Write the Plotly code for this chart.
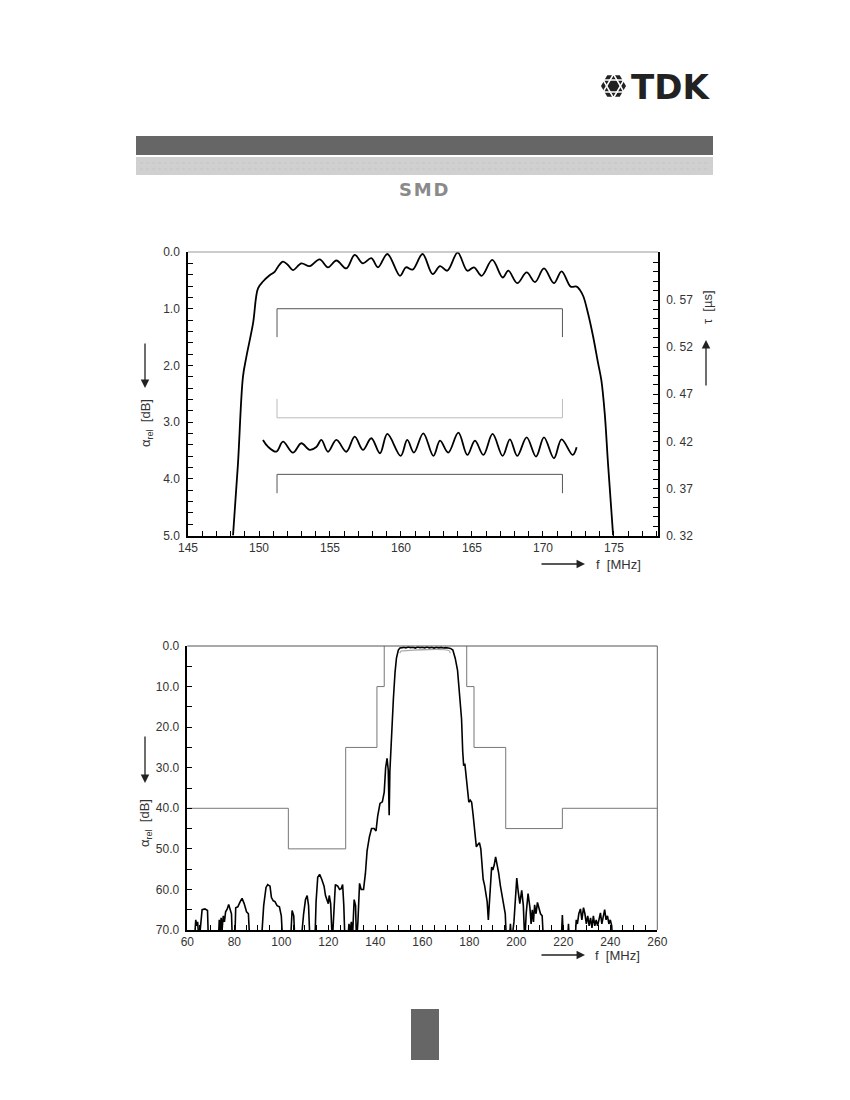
import math
import plotly.graph_objects as go

# the page body adds an 8 px margin, so the figure is drawn 8 px smaller and offset
OFF = 8
W, H = 850 - OFF, 1100 - OFF

# ---- top chart: passband detail ----
amp_f = [148.17, 148.52, 148.87, 149.11, 149.58, 149.93, 150.28, 150.75, 151.1, 151.34,
         151.69, 152.04, 152.39, 152.98, 153.57, 154.27, 154.86, 155.45, 156.15, 156.74,
         157.32, 157.91, 158.38, 159.04, 159.93, 160.35, 160.82, 161.52, 162.23, 162.75,
         163.26, 163.99, 164.67, 165.14, 165.68, 166.43, 167.16, 167.56, 168.19, 168.85,
         169.44, 170.07, 170.77, 171.31, 171.95, 172.37, 172.6, 172.84, 173.17, 173.53,
         173.88, 174.11, 174.35, 174.58, 174.94]
amp_db = [5.0, 3.73, 2.2, 1.85, 1.26, 0.64, 0.52, 0.41, 0.35, 0.26,
          0.17, 0.23, 0.32, 0.2, 0.25, 0.13, 0.27, 0.15, 0.29, 0.05,
          0.2, 0.11, 0.27, 0.035, 0.42, 0.27, 0.31, 0.035, 0.39, 0.25,
          0.33, 0.012, 0.33, 0.27, 0.42, 0.14, 0.45, 0.33, 0.55, 0.36,
          0.53, 0.29, 0.55, 0.34, 0.61, 0.61, 0.67, 0.78, 1.08, 1.49,
          1.96, 2.26, 2.85, 3.73, 5.0]

gd_f = [150.28, 150.63, 151.22, 151.69, 152.39, 152.98, 153.57, 154.04, 154.39, 154.86,
        155.45, 156.15, 156.74, 157.32, 157.91, 158.52, 159.04, 159.98, 160.44, 160.91,
        161.57, 162.28, 162.75, 163.33, 164.04, 164.67, 165.21, 165.8, 166.45, 167.16,
        167.67, 168.19, 168.85, 169.51, 170.07, 170.77, 171.31, 172.09, 172.37]
gd_us = [0.4215, 0.4144, 0.4091, 0.4197, 0.408, 0.418, 0.411, 0.414, 0.4215, 0.409,
         0.4215, 0.409, 0.425, 0.411, 0.4233, 0.4074, 0.4279, 0.4046, 0.4215, 0.4081,
         0.4286, 0.4046, 0.4208, 0.4081, 0.4293, 0.4056, 0.4208, 0.4056, 0.4279, 0.4046,
         0.4222, 0.4046, 0.4243, 0.4039, 0.4243, 0.4021, 0.4222, 0.4056, 0.4138]

tol_f = [151.27, 151.27, 171.37, 171.37]
amp_tol_db = [1.5, 1.0, 1.0, 1.5]
gd_upper_us = [0.465, 0.445, 0.445, 0.465]
gd_lower_us = [0.365, 0.385, 0.385, 0.365]

gd_ticks = [0.32, 0.37, 0.42, 0.47, 0.52, 0.57]
gd_ticktext = ["0. 32", "0. 37", "0. 42", "0. 47", "0. 52", "0. 57"]

# ---- bottom chart: wide band ----
wb = [
    (63.0, 73), (63.6, 67.5), (64.0, 69), (64.4, 68), (65.0, 73), (66.3, 65), (67.5, 64.8),
    (68.6, 65.2), (69.0, 73),
    (73.2, 73), (73.6, 67.5), (74.0, 70.5), (74.4, 67), (74.8, 70), (75.3, 66.5), (75.8, 68),
    (76.3, 65.5), (77.0, 64.8), (77.6, 63.7), (78.3, 65), (78.8, 66), (79.2, 73),
    (80.2, 73), (80.6, 64.5), (81.5, 64.3), (82.5, 63), (83.3, 62.2), (84.2, 63.5), (85.2, 65.5),
    (86.0, 66), (86.6, 73),
    (91.5, 73), (92.5, 64), (93.5, 59.5), (94.2, 58.8), (95.2, 59.2), (95.8, 62), (96.6, 62.8),
    (97.3, 63), (98.2, 64), (99.2, 64.3), (100.0, 66.5), (100.6, 73),
    (103.9, 73), (104.6, 65.2), (105.3, 66.5), (105.8, 73),
    (108.4, 73), (108.8, 69.5), (109.5, 66), (110.3, 62.5), (111.0, 61.5), (111.6, 64), (112.2, 73),
    (114.3, 73), (114.8, 63), (115.5, 57), (116.3, 56.3), (117.2, 57.5), (118.2, 59.2), (118.8, 61.5),
    (119.4, 62.5), (120.0, 63.5), (120.4, 61.5), (121.0, 63.5), (121.7, 73),
    (122.3, 66), (123.0, 58.8), (124.0, 59.2), (124.8, 60), (125.5, 59.8), (126.1, 58.8),
    (126.6, 64), (127.1, 73),
    (128.2, 73), (128.8, 68.5), (129.3, 70.5), (129.8, 68), (130.4, 70.5), (131.0, 62.5),
    (131.6, 64), (132.0, 73), (132.6, 68),
    (133.3, 58.5), (134.0, 60), (135.0, 60), (135.8, 56), (136.5, 50.5), (137.5, 47), (138.4, 45),
    (139.5, 45), (140.3, 45.6), (141.0, 42), (142.0, 38.8), (143.0, 38.4), (143.8, 36), (144.4, 30),
    (145.0, 27.7), (145.5, 30.5), (145.9, 41.7), (146.2, 31), (146.6, 25), (147.0, 20), (147.7, 13),
    (148.4, 6.5), (149.0, 3), (149.8, 1.0), (150.5, 0.5), (151.5, 0.4),
    (152, 0.3), (153, 0.45), (154, 0.25), (155, 0.4), (156, 0.3), (157, 0.5), (158, 0.25),
    (159, 0.4), (160, 0.3), (161, 0.45), (162, 0.25), (163, 0.45), (164, 0.3), (165, 0.5),
    (166, 0.3), (167, 0.45), (168, 0.35), (169, 0.5), (170, 0.4), (171, 0.5), (172, 0.6),
    (173.0, 1.0), (174.0, 3), (175.0, 6), (176.0, 12), (176.7, 18), (177.2, 26), (177.6, 29.5),
    (178.1, 29), (178.6, 31.5), (179.2, 36), (179.8, 38.5), (180.4, 38), (181.0, 38.5),
    (181.6, 41.5), (182.2, 45), (183.0, 49.5), (183.6, 49), (184.3, 48.5), (184.9, 50),
    (185.4, 53), (185.9, 57.5), (186.5, 59), (187.0, 61.5), (187.6, 63), (188.1, 67.5),
    (188.5, 63), (189.0, 57), (189.5, 54.5), (190.0, 55.2), (190.6, 54), (191.2, 52),
    (191.8, 53.5), (192.5, 56), (193.2, 59), (194.0, 62), (194.7, 64), (195.3, 66), (195.8, 73),
    (197.0, 73), (197.5, 68.5), (198.0, 73), (199.0, 68), (199.6, 62), (200.2, 57.2),
    (200.8, 60.5), (201.5, 63.5), (202.3, 60.2), (203.0, 64), (203.6, 73),
    (204.2, 66), (205.0, 61), (205.8, 64.5), (206.3, 68.5), (206.8, 65), (207.3, 68),
    (207.8, 63.8), (208.4, 66), (209.0, 63.2), (209.6, 64.5), (210.3, 66), (211.0, 66.5), (211.6, 73),
    (219.1, 73), (219.6, 66.3), (220.1, 73),
    (221.8, 73), (222.2, 68.5), (222.6, 73),
    (225.0, 73), (225.5, 67.5), (226.0, 68.5), (226.6, 66), (227.3, 64.8), (227.9, 67.5),
    (228.6, 64.5), (229.2, 66), (229.8, 68.5), (230.4, 66.5), (231.0, 69), (231.6, 67),
    (232.2, 69.5), (232.8, 66.5), (233.4, 69), (234.0, 67.5), (234.6, 69), (235.2, 67.5),
    (235.8, 65.8), (236.4, 68.5), (237.0, 66.5), (237.6, 65), (238.2, 67.5), (238.8, 66.5),
    (239.4, 68.5), (240.0, 67.5), (240.6, 69), (241.0, 73),
]
wb_f = [p[0] for p in wb]
wb_db = [p[1] for p in wb]

ref_f = [150.5, 150.8, 152.0, 171.5, 171.8]
ref_db = [1.8, 1.3, 1.2, 1.2, 1.8]

mask_left_f = [60, 103, 103, 127.4, 127.4, 140.7, 140.7, 143.8, 143.8]
mask_left_db = [40, 40, 50, 50, 25, 25, 10, 10, 0]
mask_right_f = [178.9, 178.9, 182, 182, 195.5, 195.5, 219.6, 219.6, 260]
mask_right_db = [0, 10, 10, 25, 25, 45, 45, 40, 40]


def px(x):
    return (x - OFF) / W


def py(y):
    return 1 - (y - OFF) / H


def poly_path(pts):
    return "M " + " L ".join(f"{px(a):.5f},{py(b):.5f}" for a, b in pts) + " Z"


fig = go.Figure()

# top chart traces
fig.add_trace(go.Scatter(x=tol_f, y=amp_tol_db, mode="lines",
                         line=dict(color="#555555", width=1), xaxis="x", yaxis="y"))
fig.add_trace(go.Scatter(x=tol_f, y=gd_upper_us, mode="lines",
                         line=dict(color="#bbbbbb", width=1), xaxis="x", yaxis="y2"))
fig.add_trace(go.Scatter(x=tol_f, y=gd_lower_us, mode="lines",
                         line=dict(color="#555555", width=1), xaxis="x", yaxis="y2"))
fig.add_trace(go.Scatter(x=amp_f, y=amp_db, mode="lines", line_shape="spline",
                         line=dict(color="black", width=1.8), xaxis="x", yaxis="y"))
fig.add_trace(go.Scatter(x=gd_f, y=gd_us, mode="lines", line_shape="spline",
                         line=dict(color="black", width=1.8), xaxis="x", yaxis="y2"))

# bottom chart traces
fig.add_trace(go.Scatter(x=mask_left_f, y=mask_left_db, mode="lines",
                         line=dict(color="#777777", width=1), xaxis="x2", yaxis="y3"))
fig.add_trace(go.Scatter(x=mask_right_f, y=mask_right_db, mode="lines",
                         line=dict(color="#777777", width=1), xaxis="x2", yaxis="y3"))
fig.add_trace(go.Scatter(x=ref_f, y=ref_db, mode="lines", line_shape="spline",
                         line=dict(color="#aaaaaa", width=1.2), xaxis="x2", yaxis="y3"))
fig.add_trace(go.Scatter(x=wb_f, y=wb_db, mode="lines",
                         line=dict(color="black", width=1.6), xaxis="x2", yaxis="y3"))

tickfont = dict(family="Liberation Sans, Arial", size=12, color="#333333")
common = dict(showgrid=False, zeroline=False, showline=True, linecolor="black",
              linewidth=1.5, ticks="inside", ticklen=5, tickcolor="black",
              tickfont=tickfont, automargin=False)

fig.update_layout(
    width=W, height=H, margin=dict(l=0, r=0, t=0, b=0, autoexpand=False),
    paper_bgcolor="white", plot_bgcolor="white", showlegend=False,
    xaxis=dict(domain=[px(188), px(658)], anchor="y", range=[145, 178.1],
               tick0=145, dtick=5,
               minor=dict(tick0=145, dtick=1, ticks="inside", ticklen=5, tickcolor="black"),
               **common),
    yaxis=dict(domain=[py(535.6), py(252)], anchor="x", range=[5, 0],
               tick0=0, dtick=1, tickformat=".1f", ticklabelstandoff=4,
               minor=dict(tick0=0, dtick=0.2, ticks="inside", ticklen=5, tickcolor="black"),
               **common),
    yaxis2=dict(overlaying="y", anchor="x", side="right", range=[0.32, 0.621],
                tickmode="array", tickvals=gd_ticks, ticktext=gd_ticktext, ticklabelstandoff=4,
                minor=dict(tickmode="linear", tick0=0.32, dtick=0.01, ticks="inside",
                           ticklen=5, tickcolor="black"),
                **common),
    xaxis2=dict(domain=[px(187.3), px(657.3)], anchor="y3", range=[60, 260],
                tick0=60, dtick=20,
                minor=dict(tick0=60, dtick=5, ticks="inside", ticklen=5, tickcolor="black"),
                **common),
    yaxis3=dict(domain=[py(930), py(646)], anchor="x2", range=[70, 0],
                tick0=0, dtick=10, tickformat=".1f", ticklabelstandoff=4,
                minor=dict(tick0=0, dtick=5, ticks="inside", ticklen=5, tickcolor="black"),
                **common),
)

# TDK emblem: dark hexagon with white star outline
cx, cy, r = 613.5, 86, 12.5
hexagon = [(cx + r * math.cos(math.radians(a)), cy + r * math.sin(math.radians(a)))
           for a in range(0, 360, 60)]
tri_up = [(cx + r * 0.95 * math.cos(math.radians(a)), cy + r * 0.95 * math.sin(math.radians(a)))
          for a in (-90, 30, 150)]
tri_dn = [(cx + r * 0.95 * math.cos(math.radians(a)), cy + r * 0.95 * math.sin(math.radians(a)))
          for a in (90, 210, 330)]

shapes = [
    # header bars
    dict(type="rect", xref="paper", yref="paper", x0=px(136), x1=px(713), y0=py(155), y1=py(136),
         fillcolor="#666666", line=dict(width=0), layer="below"),
    dict(type="rect", xref="paper", yref="paper", x0=px(136), x1=px(713), y0=py(175), y1=py(157),
         fillcolor="#d0d0d0", line=dict(width=0), layer="below"),
    dict(type="line", xref="paper", yref="paper", x0=px(140), x1=px(710), y0=py(163), y1=py(163),
         line=dict(color="#bdbdbd", width=0.6, dash="dot")),
    dict(type="line", xref="paper", yref="paper", x0=px(140), x1=px(710), y0=py(169), y1=py(169),
         line=dict(color="#bdbdbd", width=0.6, dash="dot")),
    # emblem
    dict(type="path", xref="paper", yref="paper", path=poly_path(hexagon),
         fillcolor="#222222", line=dict(width=0)),
    dict(type="path", xref="paper", yref="paper", path=poly_path(tri_up),
         fillcolor="rgba(0,0,0,0)", line=dict(color="white", width=1.6)),
    dict(type="path", xref="paper", yref="paper", path=poly_path(tri_dn),
         fillcolor="rgba(0,0,0,0)", line=dict(color="white", width=1.6)),
    # footer box
    dict(type="rect", xref="paper", yref="paper", x0=px(411), x1=px(439), y0=py(1060), y1=py(1009),
         fillcolor="#666666", line=dict(width=0)),
    # frame tops
    dict(type="line", xref="x domain", yref="y domain", x0=0, x1=1, y0=1, y1=1,
         line=dict(color="#999999", width=1)),
    dict(type="line", xref="x2 domain", yref="y3 domain", x0=0, x1=1, y0=1, y1=1,
         line=dict(color="#555555", width=1)),
    dict(type="line", xref="x2 domain", yref="y3 domain", x0=1, x1=1, y0=0, y1=1,
         line=dict(color="#666666", width=1)),
]
fig.update_layout(shapes=shapes)

label_font = dict(family="Liberation Sans, Arial", size=13, color="#333333")
txt = dict(xref="paper", yref="paper", showarrow=False, xanchor="center", yanchor="middle")
arrow = dict(text="", showarrow=True, arrowhead=2, arrowsize=1.3, arrowwidth=1.3,
             arrowcolor="#222222", xref="paper", yref="paper")
annotations = [
    # logo
    dict(x=px(670), y=py(87), text="<b>TDK</b>",
         font=dict(family="DejaVu Sans", size=34, color="#222222"), **txt),
    dict(x=px(423), y=py(190), text="<b>S&#8202;M&#8202;D</b>",
         font=dict(family="DejaVu Sans", size=18, color="#8a8a8a"), **txt),
    # top chart labels
    dict(x=px(146), y=py(423), text="α<sub>rel</sub>&nbsp;&nbsp;[dB]",
         textangle=-90, font=label_font, **txt),
    dict(x=px(145), y=py(388), ax=0, ay=-46, **arrow),
    dict(x=px(707), y=py(307), text="τ&nbsp;&nbsp;[µs]",
         textangle=-90, font=label_font, **txt),
    dict(x=px(706), y=py(340), ax=0, ay=47, **arrow),
    dict(x=px(618), y=py(564), text="f&nbsp;&nbsp;[MHz]", font=label_font, **txt),
    dict(x=px(585), y=py(564), ax=-45, ay=0, **arrow),
    # bottom chart labels
    dict(x=px(145), y=py(823), text="α<sub>rel</sub>&nbsp;&nbsp;[dB]",
         textangle=-90, font=label_font, **txt),
    dict(x=px(145), y=py(783), ax=0, ay=-48, **arrow),
    dict(x=px(617), y=py(955), text="f&nbsp;&nbsp;[MHz]", font=label_font, **txt),
    dict(x=px(585), y=py(955), ax=-45, ay=0, **arrow),
]
fig.update_layout(annotations=annotations)

fig.write_html("out.html")
